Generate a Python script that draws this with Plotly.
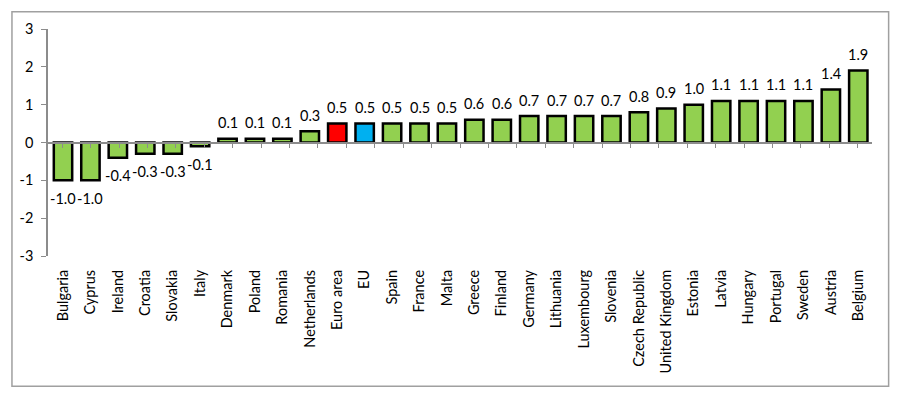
import plotly.graph_objects as go

categories = ["Bulgaria", "Cyprus", "Ireland", "Croatia", "Slovakia", "Italy", "Denmark",
              "Poland", "Romania", "Netherlands", "Euro area", "EU", "Spain", "France",
              "Malta", "Greece", "Finland", "Germany", "Lithuania", "Luxembourg", "Slovenia",
              "Czech Republic", "United Kingdom", "Estonia", "Latvia", "Hungary", "Portugal",
              "Sweden", "Austria", "Belgium"]
values = [-1.0, -1.0, -0.4, -0.3, -0.3, -0.1, 0.1, 0.1, 0.1, 0.3, 0.5, 0.5, 0.5, 0.5,
          0.5, 0.6, 0.6, 0.7, 0.7, 0.7, 0.7, 0.8, 0.9, 1.0, 1.1, 1.1, 1.1, 1.1, 1.4, 1.9]
y_ticks = [-3, -2, -1, 0, 1, 2, 3]

GREEN = "#92D050"
RED = "#FF0000"
BLUE = "#00B0F0"
colors = [RED if c == "Euro area" else BLUE if c == "EU" else GREEN for c in categories]
labels = [f"{v:.1f}" for v in values]

FONT = "Lato"
FS = 14.5
# the page body has an 8px margin; figure coordinates are page coordinates minus 8
W, H = 900, 397
L, R, T, B = 36.7, 900 - 864.3, 18, 397 - 248
pw, ph = W - L - R, H - T - B

fig = go.Figure()
fig.add_trace(go.Bar(
    x=categories, y=values,
    marker=dict(color=colors, line=dict(color="black", width=2.5)),
    hoverinfo="x+y", showlegend=False,
))
# invisible helper trace to carry the zero-line category axis
fig.add_trace(go.Scatter(x=categories, y=[0] * len(categories), xaxis="x2",
                         mode="none", showlegend=False, hoverinfo="skip"))

annotations = [
    dict(x=c, y=v, xref="x", yref="y", text=t, showarrow=False,
         yanchor="middle", xanchor="center", yshift=16 if v >= 0 else -18,
         font=dict(family=FONT, size=FS, color="black"))
    for c, v, t in zip(categories, values, labels)
]

fig.update_layout(
    width=W, height=H,
    margin=dict(l=L, r=R, t=T, b=B, pad=0),
    paper_bgcolor="white", plot_bgcolor="white",
    font=dict(family=FONT, size=FS, color="black"),
    bargap=0.33,
    annotations=annotations,
    xaxis=dict(
        type="category", categoryorder="array", categoryarray=categories,
        showline=False, ticks="", showgrid=False, zeroline=False,
        tickangle=-90, tickfont=dict(family=FONT, size=FS, color="black"),
        ticklabelstandoff=10,
    ),
    xaxis2=dict(
        type="category", categoryorder="array", categoryarray=categories,
        overlaying="x", anchor="free", position=0.5, side="bottom",
        showline=True, linecolor="#8C8C8C", linewidth=1.5,
        ticks="outside", ticklen=5, tickcolor="#8C8C8C", tickwidth=1.2,
        tickson="boundaries", showticklabels=False, showgrid=False, zeroline=False,
    ),
    yaxis=dict(
        range=[-3, 3], tickvals=y_ticks, ticktext=[str(v) for v in y_ticks],
        showline=True, linecolor="#8C8C8C", linewidth=1.5,
        ticks="outside", ticklen=5, tickcolor="#8C8C8C", tickwidth=1.2,
        showgrid=False, zeroline=False, ticklabelstandoff=5,
        tickfont=dict(family=FONT, size=FS, color="black"),
    ),
    shapes=[dict(
        type="rect", xref="paper", yref="paper",
        x0=(0.5 - L) / pw, x1=(881 - L) / pw,
        y0=(H - B - 380) / ph, y1=(H - B - 0.5) / ph,
        line=dict(color="#A0A0A0", width=1.5), fillcolor="rgba(0,0,0,0)", layer="below",
    )],
)

fig.write_html("out.html")
